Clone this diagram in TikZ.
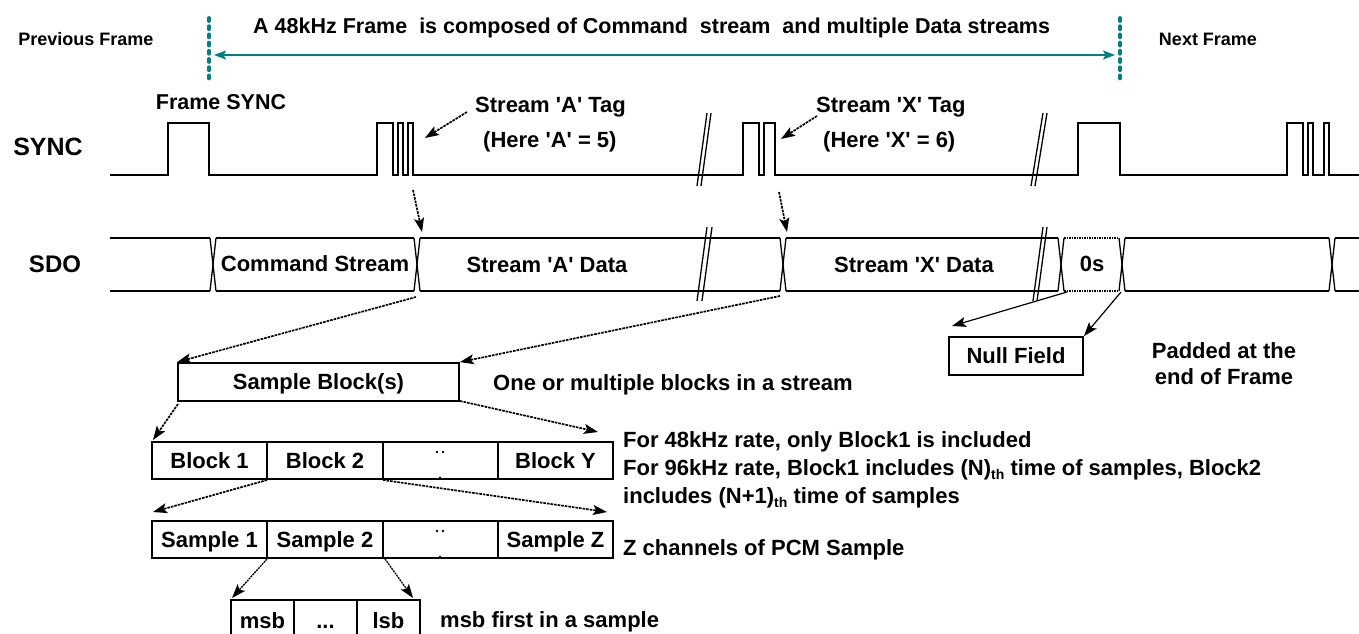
\documentclass[tikz,border=0pt]{standalone}
\usepackage{fontspec}
\setmainfont{Liberation Sans}
\usetikzlibrary{arrows.meta}
\definecolor{tealc}{RGB}{0,128,128}
\newcommand\fsz[1]{\fontsize{#1}{#1}\selectfont\bfseries}
\newcommand\qq{\textquotesingle}
\begin{document}
\begin{tikzpicture}[x=1pt,y=-1pt,
  wave/.style={line width=1.3pt, line join=miter},
  tA/.style={inner sep=0pt, font=\fsz{22}, text height=15.8pt, text depth=0pt},
  tH/.style={inner sep=0pt, font=\fsz{18}, text height=13pt, text depth=0pt},
  tT/.style={inner sep=0pt, font=\fsz{21.5}, text height=15.4pt, text depth=0pt},
  tB/.style={inner sep=0pt, font=\fsz{25}, text height=18pt, text depth=0pt},
  dasharrow/.style={line width=1.7pt, dash pattern=on 2.6pt off 1pt, -{Stealth[length=14pt,width=10pt,inset=3pt]}},
  solidarrow/.style={line width=1.2pt, -{Stealth[length=14pt,width=10pt,inset=3pt]}},
  tealdot/.style={tealc, line width=3.8pt, dash pattern=on 3pt off 5.2pt, line cap=round},
  tealarrow/.style={tealc, line width=1.4pt, {Stealth[length=12pt,width=9pt,inset=2.5pt]}-{Stealth[length=12pt,width=9pt,inset=2.5pt]}},
  cell/.style={draw, line width=1.8pt, minimum height=37pt, inner sep=0pt, font=\fsz{22}, text height=15.8pt, text depth=0pt},
  dotc/.style={fill=black}
]
\useasboundingbox (0,0) rectangle (1359,634);
\clip (0,0) rectangle (1359,634);

% ---------- header ----------
\node[tH] (prev) at (86,39) {Previous Frame};
\node[tH] (next) at (1208,39) {Next Frame};
\node[tT, anchor=west] (title) at (253,26) {A 48kHz Frame\ \ is composed of Command\ \ stream\ \ and multiple Data streams};
\coordinate (fl1) at (209,18); \coordinate (fl2) at (209,82);
\coordinate (fr1) at (1120,18); \coordinate (fr2) at (1120,82);
\draw[tealdot] (fl1) -- (fl2);
\draw[tealdot] (fr1) -- (fr2);
\coordinate (ta) at (214,55); \coordinate (tb) at (1115,55);
\draw[tealarrow] (ta) -- (tb);

% ---------- SYNC ----------
\node[tB] (synclbl) at (48,146) {SYNC};
\node[tA, font=\fsz{21.5}] (fsync) at (221,102) {Frame SYNC};
\draw[wave] (110,175) -- (168,175) -- (168,123) -- (209,123) -- (209,175)
  -- (377,175) -- (377,123) -- (393,123) -- (393,175)
  -- (398,175) -- (398,123) -- (403,123) -- (403,175)
  -- (408,175) -- (408,123) -- (413,123) -- (413,175)
  -- (743,175) -- (743,123) -- (759,123) -- (759,175)
  -- (764,175) -- (764,123) -- (775,123) -- (775,175)
  -- (1078,175) -- (1078,123) -- (1120,123) -- (1120,175)
  -- (1287,175) -- (1287,123) -- (1303,123) -- (1303,175)
  -- (1308,175) -- (1308,123) -- (1313,123) -- (1313,175)
  -- (1324,175) -- (1324,123) -- (1329,123) -- (1329,175) -- (1359,175);
% break marks on SYNC
\draw[wave] (697,186) -- (707,113);
\draw[wave] (701,186) -- (711,113);
\draw[wave] (1031,186) -- (1043,113);
\draw[wave] (1035,186) -- (1047,113);

\node[tA, anchor=west] (tagA) at (475,105) {Stream \qq A\qq{} Tag};
\node[tA, anchor=west] (hereA) at (483,140) {(Here \qq A\qq{} = 5)};
\node[tA, anchor=west] (tagX) at (816,105) {Stream \qq X\qq{} Tag};
\node[tA, anchor=west] (hereX) at (823,140) {(Here \qq X\qq{} = 6)};
\coordinate (aS) at (467,112); \coordinate (aT) at (425,138);
\coordinate (xS) at (817,116); \coordinate (xT) at (781,139);
\draw[dasharrow] (aS) -- (aT);
\draw[dasharrow] (xS) -- (xT);

% ---------- SDO ----------
\node[tB, font=\fsz{24}, text height=17.2pt] (sdolbl) at (55,264) {SDO};
\foreach \a/\b in {110/210, 216/414, 420/780, 786/1058, 1125/1329, 1335/1359}{
  \draw[wave] (\a,238) -- (\b,238);
  \draw[wave] (\a,291) -- (\b,291);
}
\draw[line width=1.5pt, dash pattern=on 1.5pt off 1pt] (1064,238) -- (1119,238);
\draw[line width=1.5pt, dash pattern=on 1.5pt off 1pt] (1064,291) -- (1119,291);
\foreach \c in {213,417,783,1061,1122,1332}{
  \draw[wave] (\c-3,238) -- (\c+3,291);
  \draw[wave] (\c+3,238) -- (\c-3,291);
}
% break marks on SDO
\draw[wave] (697,301) -- (707,227);
\draw[wave] (702,301) -- (712,227);
\draw[wave] (1033,301) -- (1043,227);
\draw[wave] (1037,301) -- (1047,227);

\node[tA] (cmd) at (315,264) {Command Stream};
\node[tA] (sAd) at (547,265) {Stream \qq A\qq{} Data};
\node[tA] (sXd) at (914,265) {Stream \qq X\qq{} Data};
\node[tA] (zeros) at (1092,264) {0s};

\coordinate (dA1) at (413,190); \coordinate (dA2) at (422,232);
\coordinate (dX1) at (779,192); \coordinate (dX2) at (787,232);
\draw[dasharrow] (dA1) -- (dA2);
\draw[dasharrow] (dX1) -- (dX2);

% ---------- Null field ----------
\node[cell, minimum width=134pt, minimum height=38pt] (nullf) at (1016,356) {Null Field};
\node[tA] (pad1) at (1224,351) {Padded at the};
\node[tA] (pad2) at (1224,377) {end of Frame};
\coordinate (z1) at (1067,292); \coordinate (z1t) at (952,326);
\coordinate (z2) at (1121,292);
\draw[solidarrow] (z1) -- (z1t);
\draw[solidarrow] (z2) -- (nullf.north east);

% ---------- Sample block ----------
\node[cell, minimum width=281pt, minimum height=38pt] (sb) at (318.5,382) {Sample Block(s)};
\node[tA, anchor=west] (onemul) at (493,383) {One or multiple blocks in a stream};
\coordinate (sA) at (416,297); \coordinate (sX) at (780,296);
\draw[dasharrow] (sA) -- (sb.north west);
\draw[dasharrow] (sX) -- (sb.north east);

% ---------- Block row ----------
\node[cell, minimum width=115.3pt] (b1) at (209.5,460.5) {Block 1};
\node[cell, minimum width=115.3pt] (b2) at (325,460.5) {Block 2};
\node[cell, minimum width=115.3pt] (b3) at (440.5,460.5) {};
\node[cell, minimum width=115.3pt] (bY) at (555.5,460.5) {Block Y};
\fill[dotc] (437,452) circle (1.4) (443,452) circle (1.4) (440,477.5) circle (1.2);
\coordinate (sbl) at (178,404); \coordinate (sbr) at (460,401);
\coordinate (b1t) at (153,440); \coordinate (bYt) at (598,432);
\draw[dasharrow] (sbl) -- (b1t);
\draw[dasharrow] (sbr) -- (bYt);
\node[tA, anchor=west] (r1) at (623,440) {For 48kHz rate, only Block1 is included};
\node[tA, anchor=west] (r2) at (623,468) {For 96kHz rate, Block1 includes (N)\raisebox{-4pt}{\fsz{14}th} time of samples, Block2};
\node[tA, anchor=west] (r3) at (623,496) {includes (N+1)\raisebox{-4pt}{\fsz{14}th} time of samples};

% ---------- Sample row ----------
\node[cell, minimum width=115.3pt] (s1) at (209.5,539.5) {Sample 1};
\node[cell, minimum width=115.3pt] (s2) at (325,539.5) {Sample 2};
\node[cell, minimum width=115.3pt] (s3) at (440.5,539.5) {};
\node[cell, minimum width=115.3pt] (sZ) at (555.5,539.5) {Sample Z};
\fill[dotc] (437,531) circle (1.4) (443,531) circle (1.4) (440,556.5) circle (1.2);
\coordinate (b2l) at (267,480); \coordinate (b2r) at (383,480);
\coordinate (s1t) at (153,512); \coordinate (sZt) at (607,512);
\draw[dasharrow] (b2l) -- (s1t);
\draw[dasharrow] (b2r) -- (sZt);
\node[tA, anchor=west] (zch) at (623,548) {Z channels of PCM Sample};

% ---------- msb row ----------
\node[cell, minimum width=63pt, minimum height=42pt] (msb) at (262.5,621) {msb};
\node[cell, minimum width=63pt, minimum height=42pt] (mid) at (325.5,621) {...};
\node[cell, minimum width=63pt, minimum height=42pt] (lsb) at (388.5,621) {lsb};
\coordinate (s2l) at (267,559); \coordinate (s2r) at (385,559);
\coordinate (msbt) at (232,598); \coordinate (lsbt) at (413,598);
\draw[dasharrow, dash pattern=on 2pt off 0.8pt, line width=1.3pt] (s2l) -- (msbt);
\draw[dasharrow, dash pattern=on 2pt off 0.8pt, line width=1.3pt] (s2r) -- (lsbt);
\node[tA, anchor=west] (msbf) at (440,620) {msb first in a sample};
\end{tikzpicture}
\end{document}
